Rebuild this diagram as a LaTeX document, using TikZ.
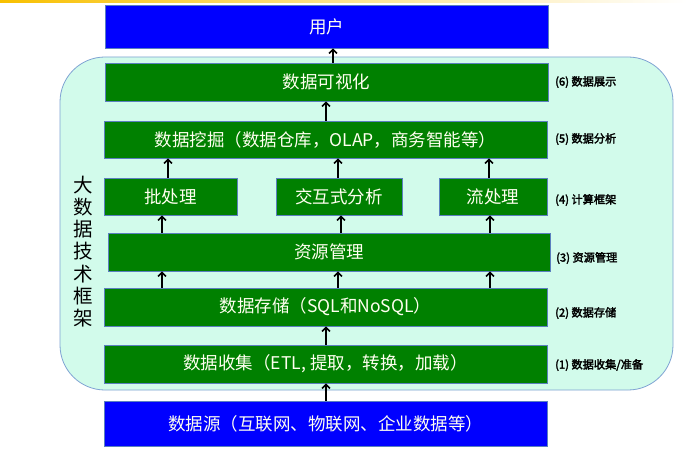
\documentclass[tikz,border=0pt]{standalone}
\usepackage{fontspec}
\newfontfamily\cjk{Noto Sans CJK SC}[AutoFakeBold=2.5]
\usetikzlibrary{arrows.meta}
\definecolor{gfill}{HTML}{008000}
\definecolor{bfill}{HTML}{0000FF}
\definecolor{edge}{HTML}{5B7FBF}
\definecolor{mint}{HTML}{D2FBEB}
\definecolor{cedge}{HTML}{7FA3D3}
\definecolor{boxtext}{HTML}{FFFFF0}
\definecolor{gold}{HTML}{F8C000}
\tikzset{
  base/.style={draw=edge, line width=0.8pt, inner sep=0pt, text=boxtext, font=\cjk\fontsize{17.5}{19}\selectfont},
  gbox/.style={base, fill=gfill},
  bbox/.style={base, fill=bfill},
  arr/.style={-{Straight Barb[length=4pt,width=8pt,line width=1.5pt]}, line width=1.8pt, black},
  lab/.style={anchor=west, inner sep=0pt, font=\cjk\bfseries\fontsize{11.2}{12}\selectfont, text=black}
}
\begin{document}
\begin{tikzpicture}[x=1pt,y=-1pt]
\useasboundingbox (0,0) rectangle (687,457);
\fill[white] (0,0) rectangle (687,457);
\shade[left color=gold, right color=white, middle color=gold!45] (0,0) rectangle (687,3);
% container
\draw[fill=mint, draw=cedge, line width=0.8pt, rounded corners=45pt] (60,57) rectangle (673,390);
% boxes
\node[bbox, minimum width=443pt, minimum height=43pt] (user) at (326.5,26.5) {用户};
\node[gbox, minimum width=443pt, minimum height=38pt] (vis) at (326.5,82) {数据可视化};
\node[gbox, minimum width=443pt, minimum height=37pt] (mine) at (325.5,139.5) {数据挖掘（数据仓库，OLAP，商务智能等）};
\node[gbox, minimum width=133pt, minimum height=37pt] (batch) at (170.5,196.5) {批处理};
\node[gbox, minimum width=126pt, minimum height=37pt] (inter) at (339,196.5) {交互式分析};
\node[gbox, minimum width=108pt, minimum height=37pt] (stream) at (493,196.5) {流处理};
\node[gbox, minimum width=442pt, minimum height=38pt] (res) at (329,252) {资源管理};
\node[gbox, minimum width=443pt, minimum height=38pt] (store) at (325.5,307) {数据存储（SQL和NoSQL）};
\node[gbox, minimum width=443pt, minimum height=38pt] (coll) at (325.5,364) {数据收集（ETL, 提取，转换，加载）};
\node[bbox, minimum width=443pt, minimum height=45pt] (src) at (325.5,423.5) {数据源（互联网、物联网、企业数据等）};
% left vertical title
\node[align=center, inner sep=0pt, font=\cjk\fontsize{19.5}{22.2}\selectfont] (title) at (83,251.5) {大\\数\\据\\技\\术\\框\\架};
% right labels
\node[lab] (l6) at (555,82) {(6) 数据展示};
\node[lab] (l5) at (555,139) {(5) 数据分析};
\node[lab] (l4) at (555,200) {(4) 计算框架};
\node[lab] (l3) at (556,258) {(3) 资源管理};
\node[lab] (l2) at (555,313) {(2) 数据存储};
\node[lab] (l1) at (555,365) {(1) 数据收集/准备};
% arrow columns
\coordinate (xa) at (333,0);
\coordinate (xb) at (326,0);
\coordinate (xc) at (168,0);
\coordinate (xd) at (338,0);
\coordinate (xe) at (489,0);
\coordinate (xf) at (162,0);
\coordinate (xg) at (341,0);
\coordinate (xh) at (490,0);
\coordinate (xi) at (338,0);
% arrows
\draw[arr] (vis.north -| xa) -- (user.south -| xa);
\draw[arr] (mine.north -| xb) -- (vis.south -| xb);
\draw[arr] (batch.north -| xc) -- (mine.south -| xc);
\draw[arr] (inter.north -| xd) -- (mine.south -| xd);
\draw[arr] (stream.north -| xe) -- (mine.south -| xe);
\draw[arr] (res.north -| xf) -- (batch.south -| xf);
\draw[arr] (res.north -| xg) -- (inter.south -| xg);
\draw[arr] (res.north -| xh) -- (stream.south -| xh);
\draw[arr] (store.north -| xf) -- (res.south -| xf);
\draw[arr] (store.north -| xi) -- (res.south -| xi);
\draw[arr] (store.north -| xh) -- (res.south -| xh);
\draw[arr] (coll.north -| xb) -- (store.south -| xb);
\draw[arr] (src.north -| xb) -- (coll.south -| xb);
\end{tikzpicture}
\end{document}
